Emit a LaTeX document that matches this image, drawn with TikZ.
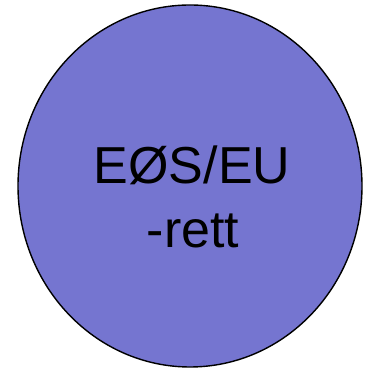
\documentclass[tikz,border=0pt]{standalone}
\usepackage{fontspec}
\setmainfont{Liberation Sans}
\usetikzlibrary{shapes.geometric}
\definecolor{disc}{RGB}{117,117,208}
\tikzset{
  discbox/.style={draw=black, line width=1.4pt, fill=disc, ellipse, inner sep=0pt,
    minimum width=344pt, minimum height=362pt},
  label/.style={inner sep=0pt, anchor=base, font=\fontsize{52}{62}\selectfont}
}
\begin{document}
\begin{tikzpicture}[x=1pt,y=1pt]
\useasboundingbox (0,0) rectangle (370,369);
\node[discbox] (c) at (190,183) {};
\node[label] (l1) at (192,185) {EØS/EU};
\node[label] (l2) at (193,121) {-rett};
\end{tikzpicture}
\end{document}
